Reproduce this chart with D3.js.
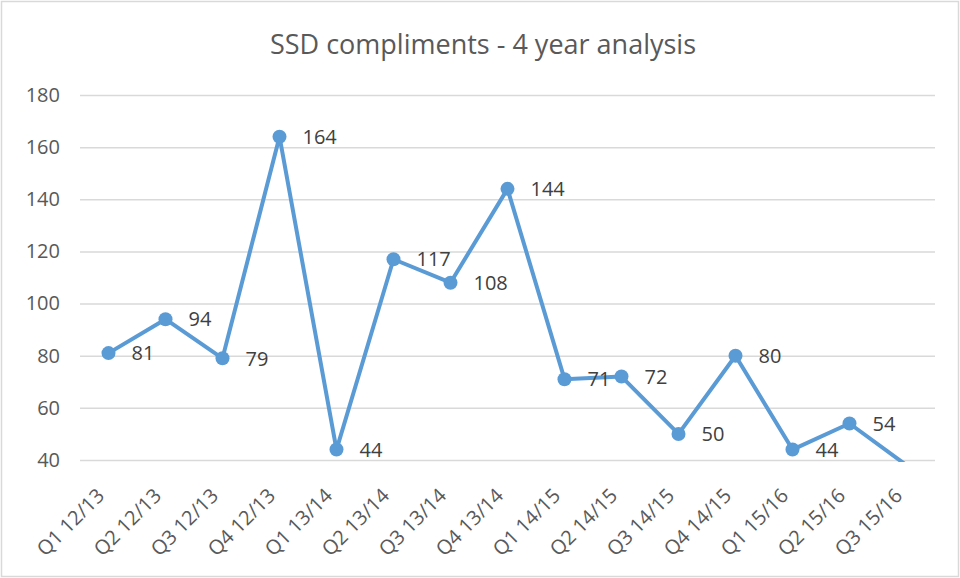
<!DOCTYPE html>
<html>
<head>
<meta charset="utf-8">
<script src="https://cdn.jsdelivr.net/npm/d3@7"></script>
<style>
  body { margin: 0; background: #fff; }
  svg { display: block; font-family: "Open Sans", "Liberation Sans", sans-serif; }
</style>
</head>
<body>
<svg id="chart"></svg>
<script>
const width = 960, height = 578;

// data
const quarters = ["Q1 12/13", "Q2 12/13", "Q3 12/13", "Q4 12/13", "Q1 13/14", "Q2 13/14", "Q3 13/14",
  "Q4 13/14", "Q1 14/15", "Q2 14/15", "Q3 14/15", "Q4 14/15", "Q1 15/16", "Q2 15/16", "Q3 15/16"];
const compliments = [81, 94, 79, 164, 44, 117, 108, 144, 71, 72, 50, 80, 44, 54, 38];
const yTicks = [40, 60, 80, 100, 120, 140, 160, 180];

const margin = { top: 95, right: 25, bottom: 118, left: 80 };
const colors = { line: "#5b9bd5", grid: "#d9d9d9", text: "#595959", label: "#404040", frame: "#d9d9d9" };
const font = "\"Open Sans\", \"Liberation Sans\", sans-serif";

const svg = d3.select("#chart").attr("width", width).attr("height", height);

// chart frame
svg.append("rect").attr("x", 1.5).attr("y", 1.5)
  .attr("width", width - 3).attr("height", height - 3)
  .attr("fill", "#fff").attr("stroke", colors.frame).attr("stroke-width", 1.5);

svg.append("text").attr("x", width / 2 + 3).attr("y", 54)
  .attr("text-anchor", "middle").attr("font-size", 27).attr("fill", colors.text)
  .text("SSD compliments - 4 year analysis");

const x = d3.scaleBand().domain(quarters).range([margin.left, width - margin.right]);
const y = d3.scaleLinear().domain([40, 180]).range([height - margin.bottom, margin.top]);

// gridlines + y labels
const yAxis = svg.append("g").attr("transform", `translate(${margin.left},0)`)
  .call(d3.axisLeft(y).tickValues(yTicks).tickSize(-(width - margin.left - margin.right)).tickPadding(20));
yAxis.select(".domain").remove();
yAxis.selectAll(".tick line").attr("stroke", colors.grid).attr("stroke-width", 1.5);
yAxis.selectAll(".tick text").attr("fill", colors.text).attr("font-size", 20).attr("font-family", font);

// x labels rotated
const xAxis = svg.append("g").attr("transform", `translate(0,${height - margin.bottom})`)
  .call(d3.axisBottom(x).tickSize(0).tickPadding(0));
xAxis.select(".domain").remove();
xAxis.selectAll(".tick text")
  .attr("fill", colors.text).attr("font-size", 20).attr("font-family", font)
  .attr("text-anchor", "end").attr("dy", null).attr("y", 0)
  .attr("transform", "translate(-3,37) rotate(-45)");

// clip the series to the plot
svg.append("clipPath").attr("id", "plotClip")
  .append("rect").attr("x", margin.left).attr("y", margin.top - 10)
  .attr("width", width - margin.left - margin.right)
  .attr("height", height - margin.bottom - margin.top + 12);

const plot = svg.append("g").attr("clip-path", "url(#plotClip)");
const cx = d => x(d) + x.bandwidth() / 2;

const line = d3.line().x((d, i) => cx(quarters[i])).y(d => y(d));
plot.append("path").datum(compliments)
  .attr("d", line).attr("fill", "none")
  .attr("stroke", colors.line).attr("stroke-width", 4).attr("stroke-linejoin", "round");

plot.selectAll("circle").data(compliments.filter(d => d >= 40)).join("circle")
  .attr("cx", (d, i) => cx(quarters[i])).attr("cy", d => y(d))
  .attr("r", 7).attr("fill", colors.line);

// data labels to the right of each visible point
svg.append("g").selectAll("text").data(compliments.filter(d => d >= 40)).join("text")
  .attr("x", (d, i) => cx(quarters[i]) + 23).attr("y", d => y(d))
  .attr("dy", "0.36em").attr("font-size", 20).attr("fill", colors.label)
  .text(d => d);
</script>
</body>
</html>
